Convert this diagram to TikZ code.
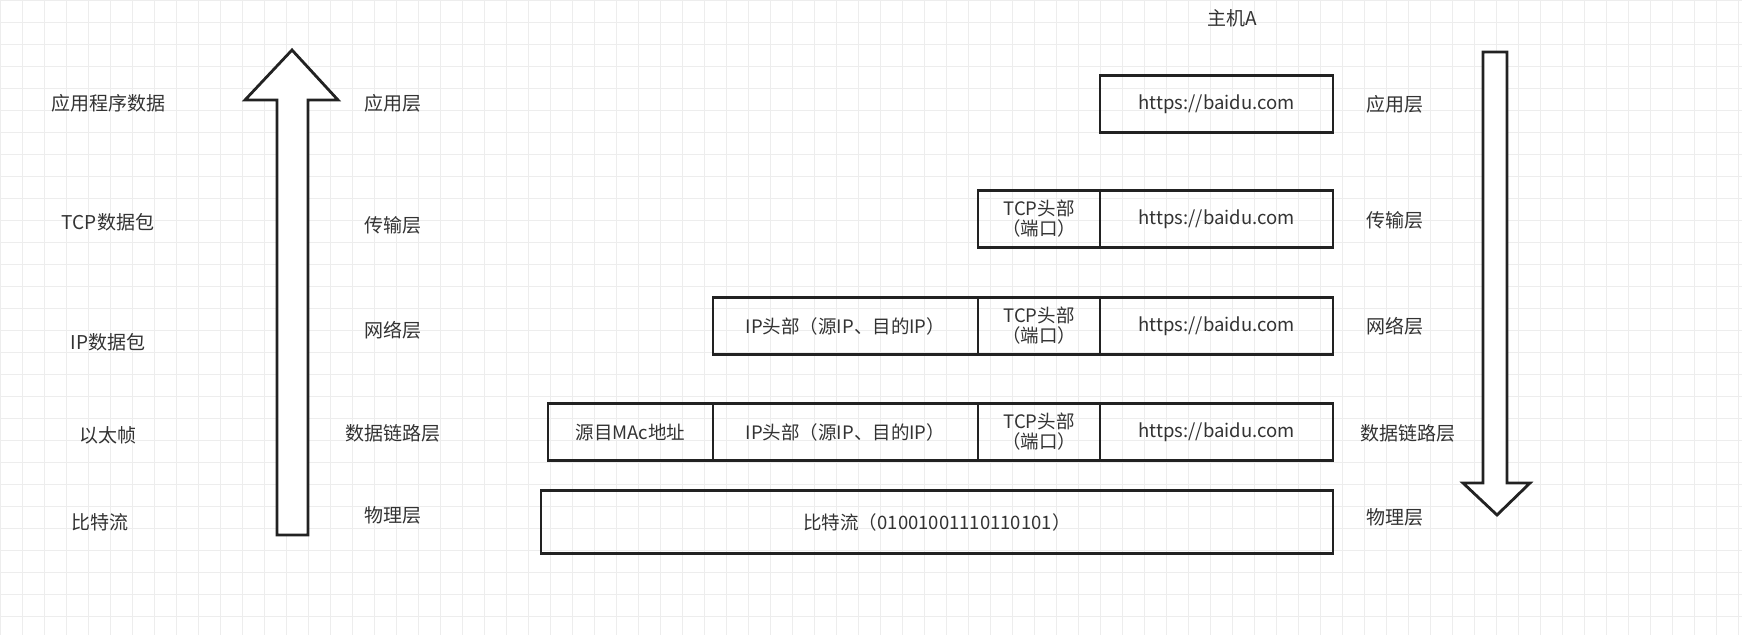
\documentclass[tikz,border=0pt]{standalone}
\usepackage{fontspec}
\setmainfont{Noto Sans CJK SC}
\definecolor{txt}{HTML}{333333}
\definecolor{ln}{HTML}{222222}
\definecolor{gridc}{HTML}{EDEDED}
\tikzset{
  lbl/.style={text=txt, font=\fontsize{19}{22}\selectfont, inner sep=0pt},
  pkt/.style={draw=ln, line width=2.8pt, text=txt, font=\fontsize{18.5}{20}\selectfont, minimum height=57pt, inner sep=0pt, outer sep=0pt, align=center, anchor=west},
  bigarrow/.style={draw=ln, line width=2.8pt, fill=white, line join=miter}
}
\begin{document}
\begin{tikzpicture}[x=1pt,y=-1pt]
\useasboundingbox (0,0) rectangle (1742,635);
\fill[white] (0,0) rectangle (1742,635);
% faint grid
\draw[gridc, line width=0.8pt] (0,0) grid[step=22pt] (1742,635);

% title
\node[lbl] (host) at (1232,18) {主机A};

% left labels
\node[lbl] (d1) at (108,103) {应用程序数据};
\node[lbl] (d2) at (108,222) {TCP数据包};
\node[lbl] (d3) at (108,342) {IP数据包};
\node[lbl] (d4) at (108,435) {以太帧};
\node[lbl] (d5) at (100,522) {比特流};

% middle labels
\node[lbl] (m1) at (393,103) {应用层};
\node[lbl] (m2) at (393,225) {传输层};
\node[lbl] (m3) at (393,330) {网络层};
\node[lbl] (m4) at (393,433) {数据链路层};
\node[lbl] (m5) at (393,515) {物理层};

% right labels
\node[lbl] (r1) at (1395,104) {应用层};
\node[lbl] (r2) at (1395,220) {传输层};
\node[lbl] (r3) at (1395,326) {网络层};
\node[lbl] (r4) at (1408,433) {数据链路层};
\node[lbl] (r5) at (1395,517) {物理层};

% up arrow
\draw[bigarrow] (277,535) -- (277,100) -- (245,100) -- (292,50) -- (338,100) -- (308,100) -- (308,535) -- cycle;
% down arrow
\draw[bigarrow] (1483,52) -- (1483,483) -- (1463,483) -- (1497,515) -- (1530,483) -- (1507,483) -- (1507,52) -- cycle;

% row 1
\node[pkt, minimum width=233pt] (a1) at (1100,104) {https://baidu.com};
% row 2
\node[pkt, minimum width=122pt] (t2) at (978,219) {TCP头部\\（端口）};
\node[pkt, minimum width=233pt] (a2) at (t2.east) {https://baidu.com};
% row 3
\node[pkt, minimum width=265pt] (i3) at (713,326) {IP头部（源IP、目的IP）};
\node[pkt, minimum width=122pt] (t3) at (i3.east) {TCP头部\\（端口）};
\node[pkt, minimum width=233pt] (a3) at (t3.east) {https://baidu.com};
% row 4
\node[pkt, minimum width=165pt] (m4b) at (548,432) {源目MAc地址};
\node[pkt, minimum width=265pt] (i4) at (m4b.east) {IP头部（源IP、目的IP）};
\node[pkt, minimum width=122pt] (t4) at (i4.east) {TCP头部\\（端口）};
\node[pkt, minimum width=233pt] (a4) at (t4.east) {https://baidu.com};
% row 5
\node[pkt, minimum width=792pt, minimum height=63pt] (bits) at (541,522) {比特流（01001001110110101）};
\end{tikzpicture}
\end{document}
